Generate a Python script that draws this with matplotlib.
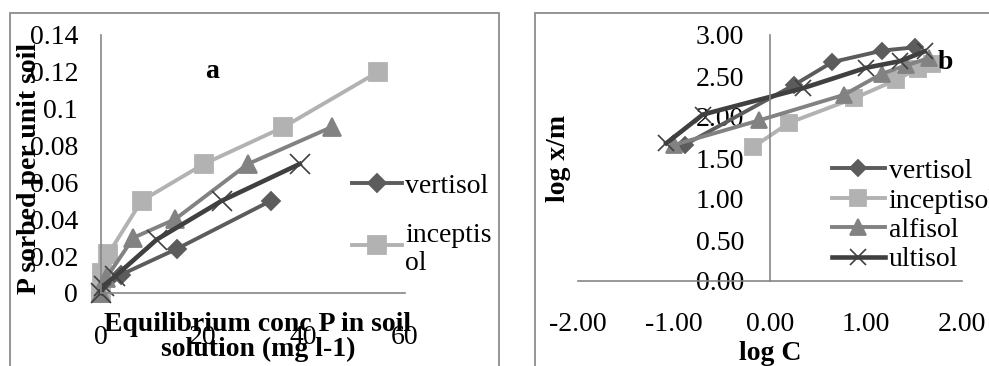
import matplotlib.pyplot as plt
from matplotlib.patches import Rectangle

plt.rcParams['font.family'] = ['Liberation Serif', 'DejaVu Serif']

# chart a: sorption isotherms
soils = ['vertisol', 'inceptisol', 'alfisol', 'ultisol']
vert_x = [0, 4, 15, 33.5]
vert_y = [0, 0.01, 0.024, 0.05]
incep_x = [0, 0.1, 1.4, 8, 20.3, 36, 54.7]
incep_y = [0, 0.011, 0.021, 0.05, 0.07, 0.09, 0.12]
alf_x = [0, 1, 6.4, 14.6, 29, 45.5]
alf_y = [0, 0.008, 0.03, 0.04, 0.07, 0.09]
ult_x = [0, 0.5, 2.8, 11, 23.8, 39.2]
ult_y = [0, 0.004, 0.009, 0.029, 0.05, 0.07]

# chart b: log-log
logc_vert = [-0.89, 0.25, 0.65, 1.17, 1.51]
logxm_vert = [1.66, 2.39, 2.67, 2.81, 2.85]
logc_incep = [-0.18, 0.2, 0.88, 1.31, 1.54, 1.69]
logxm_incep = [1.63, 1.93, 2.23, 2.45, 2.59, 2.65]
logc_alf = [-1.0, -0.11, 0.77, 1.17, 1.42, 1.66]
logxm_alf = [1.66, 1.96, 2.27, 2.53, 2.63, 2.72]
logc_ult = [-1.08, -0.7, 0.34, 1.0, 1.35, 1.61]
logxm_ult = [1.68, 2.03, 2.35, 2.6, 2.68, 2.8]

colors = ['#5c5c5c', '#b2b2b2', '#828282', '#404040']
markers = ['D', 's', '^', 'x']
msizes = [9.5, 13.5, 13.5, 14]
mews = [1.3, 1.3, 1.3, 1.2]
lwidths = [2.8, 2.8, 2.8, 3.3]
FS = 20

fig = plt.figure(figsize=(9.89, 3.66), dpi=100)

# chart area frames
fig.add_artist(Rectangle((10 / 989, -0.1), 489 / 989, 1 - 13 / 366 + 0.1,
                         transform=fig.transFigure, fill=False, ec='#8c8c8c', lw=1.3))
fig.add_artist(Rectangle((535 / 989, -0.1), 0.6, 1 - 13 / 366 + 0.1,
                         transform=fig.transFigure, fill=False, ec='#8c8c8c', lw=1.3))


def style_axes(ax):
    for s in ['top', 'right']:
        ax.spines[s].set_visible(False)
    for s in ['left', 'bottom']:
        ax.spines[s].set_color('#868686')
        ax.spines[s].set_linewidth(1.2)
    ax.spines['left'].set_position(('data', 0))
    ax.spines['bottom'].set_position(('data', 0))
    ax.patch.set_visible(False)


def legend_entry(ax, x0, x1, y, i, label, scale=1.0):
    ax.plot([x0, (x0 + x1) / 2, x1], [y, y, y], transform=ax.transAxes, clip_on=False,
            color=colors[i], lw=lwidths[i], marker=markers[i], markevery=[1],
            ms=msizes[i] * scale, mew=mews[i])
    ax.text(x1 + 0.01, y, label, transform=ax.transAxes, fontsize=FS,
            va='center_baseline', ha='left', linespacing=1.15)


# ---- chart a ----
ax1 = fig.add_axes([101 / 989, 73 / 366, 304 / 989, 258 / 366])
style_axes(ax1)
series_a = [(vert_x, vert_y), (incep_x, incep_y), (alf_x, alf_y), (ult_x, ult_y)]
for i, (xs, ys) in enumerate(series_a):
    ax1.plot(xs, ys, color=colors[i], lw=lwidths[i], marker=markers[i], ms=msizes[i],
             mew=mews[i], clip_on=False)
ax1.set_xlim(0, 60)
ax1.set_ylim(0, 0.14)
ax1.set_xticks([0, 20, 40, 60])
ax1.set_xticklabels(['0', '20', '40', '60'])
ax1.set_yticks([0, 0.02, 0.04, 0.06, 0.08, 0.1, 0.12, 0.14])
ax1.set_yticklabels(['0', '0.02', '0.04', '0.06', '0.08', '0.1', '0.12', '0.14'])
ax1.tick_params(axis='x', length=0, pad=23, labelsize=FS)
ax1.tick_params(axis='y', length=0, pad=16.5, labelsize=FS)
ax1.set_xlabel('Equilibrium conc P in soil\nsolution (mg l-1)', fontsize=FS,
               fontweight='bold', linespacing=1.0)
ax1.xaxis.set_label_coords(0.516, -0.169)
ax1.xaxis.label.set_va('center')
ax1.set_ylabel('P sorbed per unit soil', fontsize=FS, fontweight='bold')
ax1.yaxis.set_label_coords(-0.2336, 0.4845)
ax1.yaxis.label.set_va('center')
ax1.text(0.365, 0.857, 'a', transform=ax1.transAxes, fontsize=FS, fontweight='bold',
         ha='center', va='center')
legend_entry(ax1, 0.826, 0.99, 0.426, 0, 'vertisol')
legend_entry(ax1, 0.826, 0.99, 0.186, 1, 'inceptis\nol')

# ---- chart b ----
ax2 = fig.add_axes([578 / 989, 85 / 366, 384 / 989, 246 / 366])
style_axes(ax2)
series_b = [(logc_vert, logxm_vert), (logc_incep, logxm_incep),
            (logc_alf, logxm_alf), (logc_ult, logxm_ult)]
for i, (xs, ys) in enumerate(series_b):
    ax2.plot(xs, ys, color=colors[i], lw=lwidths[i], marker=markers[i],
             ms=msizes[i] * 0.85, mew=mews[i], clip_on=False)
ax2.set_xlim(-2, 2)
ax2.set_ylim(0, 3)
ax2.set_xticks([-2, -1, 0, 1, 2])
ax2.set_xticklabels(['-2.00', '-1.00', '0.00', '1.00', '2.00'])
ax2.set_yticks([0, 0.5, 1, 1.5, 2, 2.5, 3])
ax2.set_yticklabels(['0.00', '0.50', '1.00', '1.50', '2.00', '2.50', '3.00'])
ax2.tick_params(axis='x', length=0, pad=22.5, labelsize=FS)
ax2.tick_params(axis='y', length=0, pad=18.5, labelsize=FS)
ax2.set_xlabel('log C', fontsize=FS, fontweight='bold')
ax2.xaxis.set_label_coords(0.5, -0.293)
ax2.xaxis.label.set_va('center')
ax2.set_ylabel('log x/m', fontsize=FS, fontweight='bold')
ax2.yaxis.set_label_coords(-0.052, 0.5)
ax2.yaxis.label.set_va('center')
ax2.text(0.956, 0.89, 'b', transform=ax2.transAxes, fontsize=FS, fontweight='bold',
         ha='center', va='center')
for i, (yy, name) in enumerate(zip([0.459, 0.337, 0.2195, 0.0976], soils)):
    legend_entry(ax2, 0.661, 0.799, yy, i, name, scale=0.85)

fig.savefig('out.png', dpi=100)
